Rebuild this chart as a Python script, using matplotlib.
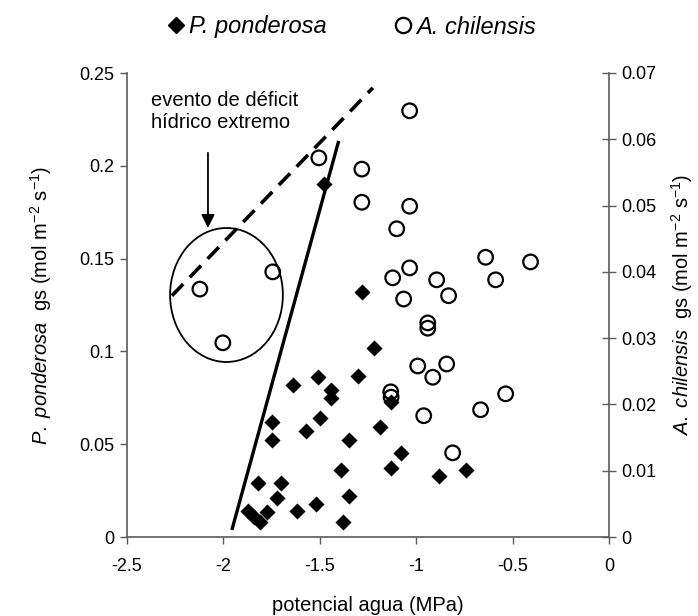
import matplotlib
matplotlib.use("Agg")
import matplotlib.pyplot as plt
from matplotlib.lines import Line2D
from matplotlib.patches import Ellipse

plt.rcParams['font.family'] = ['Liberation Sans', 'DejaVu Sans']
plt.rcParams['mathtext.fontset'] = 'custom'
plt.rcParams['mathtext.rm'] = 'Liberation Sans'
plt.rcParams['mathtext.it'] = 'Liberation Sans:italic'

# P. ponderosa (left axis)
pp_x = [-1.48, -1.28, -1.22, -1.30, -1.64, -1.51, -1.44, -1.44, -1.13, -1.75,
        -1.50, -1.57, -1.19, -1.75, -1.35, -1.08, -1.39, -1.13, -0.88, -0.74,
        -1.82, -1.70, -1.72, -1.87, -1.775, -1.84, -1.81, -1.62, -1.52, -1.35,
        -1.38]
pp_y = [0.190, 0.132, 0.102, 0.087, 0.082, 0.086, 0.079, 0.075, 0.073, 0.062,
        0.064, 0.057, 0.059, 0.052, 0.052, 0.045, 0.036, 0.037, 0.033, 0.036,
        0.029, 0.029, 0.021, 0.014, 0.0135, 0.011, 0.008, 0.014, 0.018, 0.022,
        0.008]

# A. chilensis (right axis)
ac_x = [-1.505, -2.122, -1.744, -2.003, -1.034, -1.282, -1.282, -1.034, -1.101,
        -0.640, -0.588, -0.407, -1.034, -1.122, -0.894, -1.065, -0.832, -0.940,
        -0.940, -0.992, -0.842, -0.914, -1.132, -1.130, -0.961, -0.666, -0.536,
        -0.811]
ac_y = [0.0572, 0.0374, 0.0400, 0.0293, 0.0643, 0.0555, 0.0505, 0.0499, 0.0465,
        0.0422, 0.0388, 0.0415, 0.0406, 0.0391, 0.0388, 0.0359, 0.0364, 0.0323,
        0.0315, 0.0258, 0.0261, 0.0241, 0.0219, 0.0211, 0.0183, 0.0192, 0.0216,
        0.0127]

# trend lines (left-axis units)
solid_x = [-1.956, -1.402]
solid_y = [0.0038, 0.2134]
dash_x = [-2.267, -1.225]
dash_y = [0.130, 0.242]

x_ticks = [-2.5, -2, -1.5, -1, -0.5, 0]
x_ticklabels = ['-2.5', '-2', '-1.5', '-1', '-0.5', '0']
yl_ticks = [0, 0.05, 0.1, 0.15, 0.2, 0.25]
yl_ticklabels = ['0', '0.05', '0.1', '0.15', '0.2', '0.25']
yr_ticks = [0, 0.01, 0.02, 0.03, 0.04, 0.05, 0.06, 0.07]
yr_ticklabels = ['0', '0.01', '0.02', '0.03', '0.04', '0.05', '0.06', '0.07']

TICK_FS = 13
LABEL_FS = 14.5

fig = plt.figure(figsize=(6.98, 6.16), dpi=100)
ax = fig.add_axes([127/698, 1-537/616, (609-127)/698, (537-73)/616])
ax2 = ax.twinx()

ax2.scatter(ac_x, ac_y, s=10.5**2, marker='o', facecolors='none',
            edgecolors='black', linewidths=1.6, zorder=3)
ax.scatter(pp_x, pp_y, s=8.2**2, marker='D', color='black', linewidths=0, zorder=3)
ax.plot(solid_x, solid_y, color='black', lw=2.4, solid_capstyle='butt', zorder=2)
ax.plot(dash_x, dash_y, color='black', lw=2.6, dashes=(4.5, 2.6), zorder=2)

ax.add_patch(Ellipse((-1.984, 0.1304), 0.585, 0.0722, facecolor='none',
                     edgecolor='black', lw=1.3, zorder=2))
ax.annotate('', xy=(-2.08, 0.1665), xytext=(-2.08, 0.207),
            arrowprops=dict(arrowstyle='-|>', color='black', lw=1.3,
                            mutation_scale=20, shrinkA=0, shrinkB=0))
ax.text(-2.377, 0.2405, 'evento de déficit\nhídrico extremo', fontsize=14.5,
        va='top', ha='left', linespacing=1.2)

ax.set_zorder(ax2.get_zorder() + 1)
ax.patch.set_visible(False)

ax.set_xlim(-2.5, 0)
ax.set_ylim(0, 0.25)
ax2.set_ylim(0, 0.07)

ax.set_xticks(x_ticks)
ax.set_xticklabels(x_ticklabels)
ax.set_yticks(yl_ticks)
ax.set_yticklabels(yl_ticklabels)
ax2.set_yticks(yr_ticks)
ax2.set_yticklabels(yr_ticklabels)

spine_col = '#5a5a5a'
for a in (ax, ax2):
    a.spines['top'].set_visible(False)
    for s in a.spines.values():
        s.set_color(spine_col)
        s.set_linewidth(1.2)
ax.spines['right'].set_visible(False)
ax2.spines['left'].set_visible(False)
ax2.spines['bottom'].set_visible(False)

ax.tick_params(axis='x', direction='out', length=5, width=1, color=spine_col,
               labelsize=TICK_FS, pad=10)
ax.tick_params(axis='y', direction='out', length=5, width=1, color=spine_col,
               labelsize=TICK_FS, pad=4)
ax2.tick_params(axis='y', direction='inout', length=10, width=1, color=spine_col,
                labelsize=TICK_FS, pad=4)

ax.set_xlabel('potencial agua (MPa)', fontsize=LABEL_FS, labelpad=15)
ax.set_ylabel(r'$\it{P.\ ponderosa}$  gs (mol m$^{-2}$ s$^{-1}$)', fontsize=LABEL_FS,
              labelpad=18)
ax2.set_ylabel(r'$\it{A.\ chilensis}$  gs (mol m$^{-2}$ s$^{-1}$)', fontsize=LABEL_FS,
               labelpad=9)

handles = [
    Line2D([], [], marker='D', color='black', linestyle='none', markersize=8.5),
    Line2D([], [], marker='o', markerfacecolor='none', markeredgecolor='black',
           markeredgewidth=1.6, linestyle='none', markersize=11),
]
leg = fig.legend(handles, ['P. ponderosa', 'A. chilensis'], loc='center',
                 bbox_to_anchor=(0.5015, 1-27/616), ncol=2, frameon=False,
                 handletextpad=0.05, columnspacing=2.75, handlelength=1.0,
                 prop={'style': 'italic', 'size': 17})

fig.savefig('out.png', dpi=100)
